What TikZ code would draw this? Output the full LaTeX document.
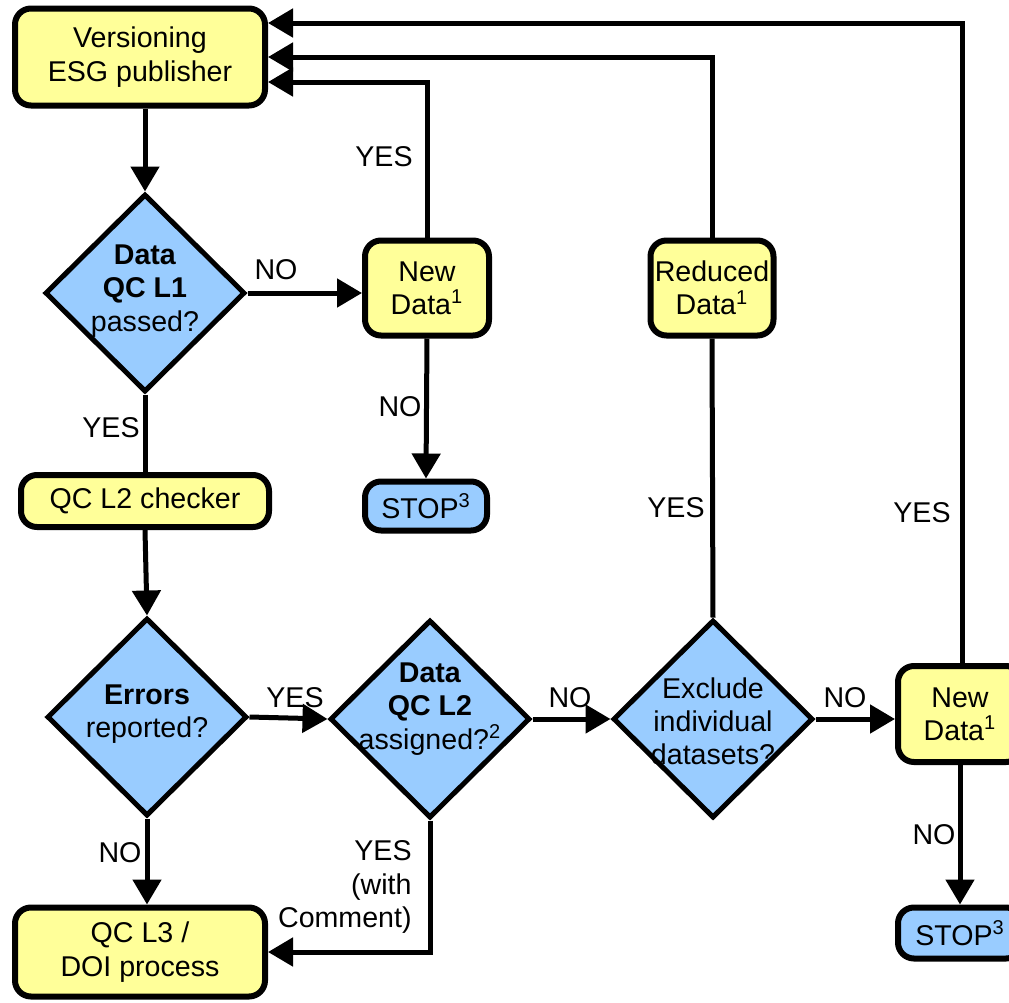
\documentclass[tikz,border=0pt]{standalone}
\usepackage{fontspec}
\setmainfont{Liberation Sans}
\usetikzlibrary{shapes.geometric,arrows.meta}

\definecolor{stepyellow}{HTML}{FFFF99}
\definecolor{queryblue}{HTML}{99CCFF}

\tikzset{
  every node/.style={font=\fontsize{14.3}{16.6}\selectfont},
  stepbox/.style={rectangle,rounded corners=8pt,draw=black,line width=3pt,fill=stepyellow,align=center,inner sep=0pt},
  stopbox/.style={stepbox,fill=queryblue},
  query/.style={diamond,draw=black,line width=2.5pt,fill=queryblue,inner sep=0pt,minimum width=100pt,minimum height=99pt},
  qtext/.style={align=center,inner sep=0pt},
  tag/.style={inner sep=0pt},
  flow/.style={line width=2.5pt,-{Triangle[length=12.5pt,width=14pt]}},
  link/.style={line width=2.5pt}
}

\begin{document}
\begin{tikzpicture}[x=0.5pt,y=-0.5pt]
  \useasboundingbox (0,0) rectangle (1009,1003);
  \clip (0,0) rectangle (1009,1003);

  % boxes
  \node[stepbox,minimum width=125pt,minimum height=48.5pt] (ver) at (140,57) {Versioning\\ESG publisher};
  \node[stepbox,minimum width=62pt,minimum height=47.5pt] (nd1) at (427,288) {New\\Data\textsuperscript{1}};
  \node[stopbox,minimum width=61pt,minimum height=24.5pt] (stop1) at (426,506) {STOP\textsuperscript{3}};
  \node[stepbox,minimum width=124pt,minimum height=26pt] (qc2) at (145,501) {QC L2 checker};
  \node[stepbox,minimum width=125pt,minimum height=44.5pt] (qc3) at (140,952) {QC L3 /\\DOI process};
  \node[stepbox,minimum width=61.5pt,minimum height=47.5pt] (rd) at (712,288) {Reduced\\Data\textsuperscript{1}};
  \node[stepbox,minimum width=62pt,minimum height=48pt] (nd2) at (960,714) {New\\Data\textsuperscript{1}};
  \node[stopbox,minimum width=62pt,minimum height=25.5pt] (stop2) at (960,933) {STOP\textsuperscript{3}};

  % decisions
  \node[query,label={[qtext,yshift=1pt]center:{\textbf{Data}\\\textbf{QC L1}\\passed?}}] (d1) at (145,293) {};
  \node[query,label={[qtext,yshift=1.5pt]center:{\textbf{Errors}\\reported?}}] (d2) at (147,717) {};
  \node[query,label={[qtext,yshift=5pt]center:{\textbf{Data}\\\textbf{QC L2}\\assigned?\textsuperscript{2}}}] (d3) at (430,719) {};
  \node[query,label={[qtext,yshift=-1pt]center:{Exclude\\individual\\datasets?}}] (d4) at (713,719) {};

  % connectors
  \draw[flow] (d1.north |- ver.south) -- (d1.north);
  \draw[flow] (d1.east) -- (d1.east -| nd1.west);
  \draw[flow] (nd1.north) |- ([yshift=-12.5pt]ver.east);
  \draw[flow] (nd1.south) -- (stop1.north);
  \draw[link] (d1.south) -- (d1.south |- qc2.north);
  \draw[flow] (qc2.south) -- (d2.north);
  \draw[flow] (d2.east) -- (d3.west);
  \draw[flow] (d3.east) -- (d4.west);
  \draw[link] (d4.north) -- (rd.south);
  \draw[flow] (rd.north) |- (ver.east);
  \draw[flow] (d4.east) -- (d4.east -| nd2.west);
  \draw[flow] ([xshift=1pt]nd2.north) |- ([yshift=17pt]ver.east);
  \draw[flow] (nd2.south) -- (stop2.north);
  \draw[flow] (d2.south) -- (d2.south |- qc3.north);
  \draw[flow] (d3.south) |- (qc3.east);

  % labels
  \node[tag] (no1) at (276,270) {NO};
  \node[tag] (yes1) at (384,157) {YES};
  \node[tag] (no2) at (400,407) {NO};
  \node[tag] (yes2) at (111,428) {YES};
  \node[tag] (yes3) at (295,698) {YES};
  \node[tag] (no3) at (570,698) {NO};
  \node[tag] (no4) at (845,698) {NO};
  \node[tag] (yes4) at (676,508) {YES};
  \node[tag] (yes5) at (922,513) {YES};
  \node[tag] (no5) at (934,835) {NO};
  \node[tag] (no6) at (120,853) {NO};
  \node[tag,align=right,anchor=east] (yes6) at (412,887) {YES\\(with\\Comment)};
\end{tikzpicture}
\end{document}
